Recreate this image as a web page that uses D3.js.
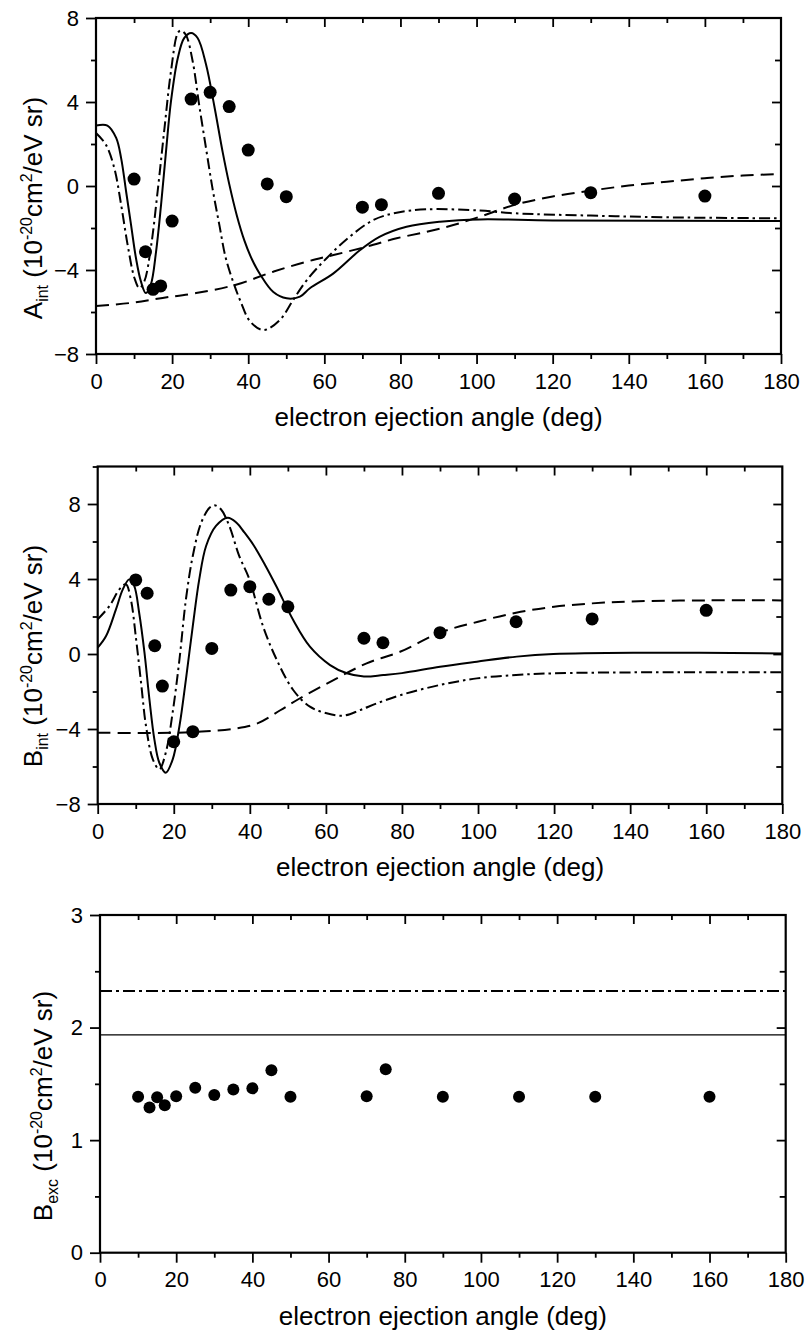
<!DOCTYPE html>
<html>
<head>
<meta charset="utf-8">
<script src="https://cdn.jsdelivr.net/npm/d3@7"></script>
<style>
  body { margin: 0; background: #fff; }
  text { font-family: "Liberation Sans", Arial, sans-serif; fill: #000; }
</style>
</head>
<body>
<svg id="chart"></svg>
<script>
// measured points (filled circles)
const angles = [10, 13, 15, 17, 20, 25, 30, 35, 40, 45, 50, 70, 75, 90, 110, 130, 160];
const aIntMeasured = [0.33, -3.13, -4.92, -4.76, -1.67, 4.14, 4.46, 3.78, 1.71, 0.10, -0.51, -1.01, -0.89, -0.35, -0.62, -0.32, -0.48];
const bIntMeasured = [3.95, 3.24, 0.44, -1.71, -4.68, -4.14, 0.30, 3.41, 3.59, 2.92, 2.52, 0.84, 0.60, 1.14, 1.72, 1.87, 2.33];
const bExcMeasured = [1.385, 1.29, 1.38, 1.31, 1.39, 1.465, 1.40, 1.45, 1.46, 1.62, 1.385, 1.39, 1.63, 1.385, 1.385, 1.385, 1.385];

// theory curves, [angle, value]
const aIntSolid = [[0, 2.88], [3, 2.88], [5.3, 2.29], [6.6, 1.33], [7.9, -0.25], [9.2, -1.84], [10.5, -3.43], [11.8, -4.54], [13.1, -5.1],
  [14.4, -4.7], [15.8, -3.1], [17.1, -0.89], [18.4, 1.65], [19.7, 4.03], [21.5, 6.1], [23.2, 7.05], [25, 7.29], [26.7, 7.05],
  [28.9, 5.8], [31.1, 3.8], [33.3, 1.6], [35, 0.1], [37, -1.4], [39, -2.6], [41, -3.5], [43.1, -4.2], [46.6, -5.05],
  [50.1, -5.35], [53.6, -5.27], [56.2, -4.87], [62.4, -4.16], [69.4, -3.05], [74.6, -2.41], [81.6, -1.94], [90.4, -1.7],
  [100.9, -1.59], [120, -1.64], [180, -1.67]];
const aIntDashDot = [[0, 2.52], [2.6, 1.97], [4.8, 0.86], [6.6, -0.89], [8.3, -2.79], [10.1, -4.38], [11.4, -4.86], [12.7, -4.54],
  [14.4, -2.95], [16.2, -0.25], [18, 2.76], [19.7, 5.46], [21.5, 7.29], [22.3, 7.4], [23.6, 7.2], [25.4, 5.94], [27.1, 3.87],
  [28.9, 1.81], [30.6, -0.1], [32.4, -1.84], [34.1, -3.43], [36.3, -4.7], [38, -5.5], [40.5, -6.45], [44, -6.86], [48.3, -6.38],
  [51.8, -5.43], [55.4, -4.48], [60.6, -3.44], [66.7, -2.41], [72.9, -1.62], [79, -1.27], [86.9, -1.11], [100.9, -1.17],
  [110, -1.3], [130, -1.41], [150, -1.49], [180, -1.54]];
const aIntDashed = [[0, -5.72], [9, -5.57], [17.5, -5.33], [26.3, -5.1], [36.8, -4.7], [46.6, -4.08], [55.4, -3.6], [62.4, -3.29],
  [71.1, -2.89], [79, -2.49], [86.9, -2.18], [93.9, -1.86], [100.9, -1.46], [110, -0.9], [120, -0.5], [130, -0.22],
  [140, 0.02], [150, 0.2], [160, 0.37], [170, 0.5], [180, 0.57]];

const bIntSolid = [[0, 0.34], [2.2, 0.96], [4.8, 2.38], [6.6, 3.45], [8.3, 3.98], [9.6, 3.63], [10.9, 2.2], [12.3, 0.07],
  [13.6, -2.42], [14.9, -4.55], [16.2, -5.8], [17.9, -6.33], [19.7, -5.63], [21.5, -3.84], [23.2, -1.35], [25, 1.49],
  [26.7, 3.98], [28.5, 5.76], [31.1, 6.83], [34.2, 7.27], [36.5, 7.0], [38.5, 6.5], [41, 5.8], [44, 4.75], [47, 3.6], [51.4, 1.81],
  [55.8, 0.39], [61.1, -0.59], [65.5, -1.03], [70, -1.2], [75.1, -1.12], [80, -1.02], [90, -0.68], [99.7, -0.41],
  [110.2, -0.14], [119.8, 0], [140.8, 0.07], [180, 0.03]];
const bIntDashDot = [[0, 1.85], [3.1, 2.56], [5.7, 3.45], [7.4, 3.72], [8.7, 2.92], [10.1, 0.78], [11.4, -1.53], [12.7, -3.84],
  [14.5, -5.62], [16.2, -6.15], [17.9, -5.26], [19.7, -3.13], [21.5, -0.28], [23.2, 2.92], [25, 5.23], [27.2, 7.0], [29.4, 7.8],
  [30.7, 7.93], [32.4, 7.72], [34.6, 6.83], [37.2, 5.23], [39.9, 3.98], [43.5, 1.46], [47.1, -0.32], [51.4, -1.92],
  [55.8, -2.81], [60.2, -3.16], [64.6, -3.29], [69, -2.99], [73.4, -2.63], [79.5, -2.2], [90, -1.65], [99.7, -1.3],
  [110, -1.12], [119.8, -1.03], [140.8, -0.98], [180, -0.98]];
const bIntDashed = [[0, -4.2], [20, -4.2], [28.5, -4.12], [36, -3.98], [42, -3.7], [48, -3.0], [53.2, -2.36], [62, -1.39],
  [70.7, -0.5], [79.5, 0.12], [90, 1.14], [100, 1.72], [110, 2.2], [120, 2.52], [130, 2.7], [140, 2.8], [160, 2.86], [180, 2.86]];

const bExcSolid = [[0, 1.935], [180, 1.935]];
const bExcDashDot = [[0, 2.325], [180, 2.325]];

// ticks
const xMajor = [0, 20, 40, 60, 80, 100, 120, 140, 160, 180];
const xMinor = [10, 30, 50, 70, 90, 110, 130, 150, 170];
const intMajor = [-8, -4, 0, 4, 8];
const intMinor = [-6, -2, 2, 6];
const intMinorB = [-6, -2, 2, 6, 10];
const excMajor = [0, 1, 2, 3];
const excMinor = [0.5, 1.5, 2.5];

const width = 808, height = 1336;
const svg = d3.select('#chart').attr('width', width).attr('height', height);

function drawPanel(p) {
  const x = d3.scaleLinear().domain([0, 180]).range([p.left, p.right]);
  const y = d3.scaleLinear().domain(p.yDomain).range([p.bottom, p.top]);
  const g = svg.append('g');

  g.append('clipPath').attr('id', p.id)
    .append('rect')
    .attr('x', p.left).attr('y', p.top)
    .attr('width', p.right - p.left).attr('height', p.bottom - p.top);

  // theory lines
  const line = d3.line().x(d => x(d[0])).y(d => y(d[1])).curve(d3.curveCatmullRom.alpha(0.5));
  p.lines.forEach(l => {
    g.append('path')
      .datum(l.data)
      .attr('d', line)
      .attr('fill', 'none')
      .attr('stroke', '#000')
      .attr('stroke-width', l.width || 2)
      .attr('stroke-dasharray', l.dash || null)
      .attr('clip-path', `url(#${p.id})`);
  });

  // measured points
  g.selectAll('circle.pt')
    .data(angles.map((a, i) => [a, p.points[i]]))
    .join('circle')
    .attr('class', 'pt')
    .attr('cx', d => x(d[0]))
    .attr('cy', d => y(d[1]))
    .attr('r', p.r)
    .attr('fill', '#000');

  const style = sel => {
    sel.select('.domain').remove();
    sel.selectAll('line').attr('stroke', '#000').attr('stroke-width', 1.8);
    sel.selectAll('text').style('font-size', '22px').attr('fill', '#000');
  };

  // bottom: ticks outward
  g.append('g').attr('transform', `translate(0,${p.bottom})`)
    .call(d3.axisBottom(x).tickValues(xMinor).tickSize(5).tickFormat('')).call(style);
  g.append('g').attr('transform', `translate(0,${p.bottom})`)
    .call(d3.axisBottom(x).tickValues(xMajor).tickSize(10).tickPadding(9)).call(style);
  // top: ticks inward
  g.append('g').attr('transform', `translate(0,${p.top})`)
    .call(d3.axisBottom(x).tickValues(xMinor).tickSize(5).tickFormat('')).call(style);
  g.append('g').attr('transform', `translate(0,${p.top})`)
    .call(d3.axisBottom(x).tickValues(xMajor.slice(1, -1)).tickSize(9).tickFormat('')).call(style);
  // left: ticks outward
  g.append('g').attr('transform', `translate(${p.left},0)`)
    .call(d3.axisLeft(y).tickValues(p.yMinor).tickSize(5).tickFormat('')).call(style);
  g.append('g').attr('transform', `translate(${p.left},0)`)
    .call(d3.axisLeft(y).tickValues(p.yMajor).tickSize(10).tickPadding(7).tickFormat(d3.format('d'))).call(style);
  // right: ticks inward
  g.append('g').attr('transform', `translate(${p.right},0)`)
    .call(d3.axisLeft(y).tickValues(p.yMinor.filter(v => v < p.yDomain[1])).tickSize(6).tickFormat('')).call(style);
  g.append('g').attr('transform', `translate(${p.right},0)`)
    .call(d3.axisLeft(y).tickValues(p.yMajor.filter(v => v > p.yDomain[0] && v < p.yDomain[1])).tickSize(9).tickFormat('')).call(style);

  // frame
  g.append('rect')
    .attr('x', p.left).attr('y', p.top)
    .attr('width', p.right - p.left).attr('height', p.bottom - p.top)
    .attr('fill', 'none').attr('stroke', '#000').attr('stroke-width', 2.2);

  // x title
  g.append('text')
    .attr('x', (p.left + p.right) / 2)
    .attr('y', p.bottom + 72)
    .attr('text-anchor', 'middle')
    .style('font-size', '26px')
    .text('electron ejection angle (deg)');

  // y title
  const t = g.append('text')
    .attr('transform', `translate(${p.titleX},${p.titleY}) rotate(-90)`)
    .attr('text-anchor', 'middle')
    .style('font-size', '26px');
  t.append('tspan').text(p.sym);
  t.append('tspan').attr('dy', 6).style('font-size', '16px').text(p.sub);
  t.append('tspan').attr('dy', -6).text(' (10');
  t.append('tspan').attr('dy', -10).style('font-size', '16px').text('-20');
  t.append('tspan').attr('dy', 10).text('cm');
  t.append('tspan').attr('dy', -10).style('font-size', '16px').text('2');
  t.append('tspan').attr('dy', 10).text('/eV sr)');
}

drawPanel({
  id: 'clipA', left: 96, right: 781, top: 18, bottom: 354,
  yDomain: [-8, 8], yMajor: intMajor, yMinor: intMinor,
  points: aIntMeasured, r: 6.5,
  lines: [
    { data: aIntSolid },
    { data: aIntDashDot, dash: '11,4,2.5,4' },
    { data: aIntDashed, dash: '13,7' }
  ],
  sym: 'A', sub: 'int', titleX: 42, titleY: 208
});

drawPanel({
  id: 'clipB', left: 97.7, right: 782.3, top: 466.5, bottom: 804,
  yDomain: [-8, 10], yMajor: intMajor, yMinor: intMinorB,
  points: bIntMeasured, r: 6.5,
  lines: [
    { data: bIntSolid },
    { data: bIntDashDot, dash: '11,4,2.5,4' },
    { data: bIntDashed, dash: '13,7' }
  ],
  sym: 'B', sub: 'int', titleX: 42, titleY: 656
});

drawPanel({
  id: 'clipC', left: 100, right: 785.7, top: 915, bottom: 1252.7,
  yDomain: [0, 3], yMajor: excMajor, yMinor: excMinor,
  points: bExcMeasured, r: 6,
  lines: [
    { data: bExcSolid, width: 1.4 },
    { data: bExcDashDot, dash: '12,4,3,4', width: 2.2 }
  ],
  sym: 'B', sub: 'exc', titleX: 52, titleY: 1106
});
</script>
</body>
</html>
